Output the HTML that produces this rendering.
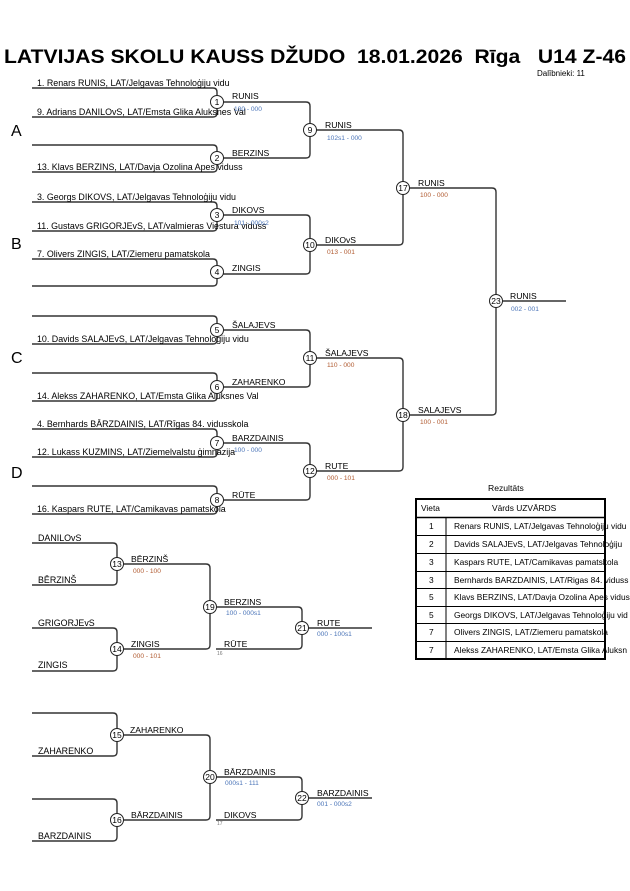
<!DOCTYPE html>
<html><head><meta charset="utf-8"><style>
html,body{margin:0;padding:0;background:#fff;width:630px;height:891px;overflow:hidden}
svg{display:block}
text{font-family:"Liberation Sans",Arial,sans-serif;fill:#000}
.n{font-size:8.9px}
.w{font-size:8.6px}
.s{font-size:6.6px;fill:#4a74b8}
.c{font-size:8.5px;text-anchor:middle}
.ln{fill:none;stroke:#333;stroke-width:1.4}
.cr{fill:#fff;stroke:#222;stroke-width:1}
.t{font-size:8.4px}
</style></head><body>
<svg width="630" height="891" viewBox="0 0 630 891" xmlns="http://www.w3.org/2000/svg">
<text x="4" y="63" style="font-size:19.5px;font-weight:bold;white-space:pre" xml:space="preserve" textLength="622" lengthAdjust="spacingAndGlyphs">LATVIJAS SKOLU KAUSS DŽUDO  18.01.2026  Rīga   U14 Z-46</text>
<text x="537" y="76" style="font-size:8px">Dalībnieki: 11</text>
<text x="11" y="136" style="font-size:16px">A</text>
<text x="11" y="249" style="font-size:16px">B</text>
<text x="11" y="363" style="font-size:16px">C</text>
<text x="11" y="478" style="font-size:16px">D</text>
<g class="ln">
<path d="M32 88H213Q217 88 217 92V113Q217 117 213 117H32"/>
<path d="M32 145H213Q217 145 217 149V168Q217 172 213 172H32"/>
<path d="M32 202H213Q217 202 217 206V227Q217 231 213 231H32"/>
<path d="M32 259H213Q217 259 217 263V282Q217 286 213 286H32"/>
<path d="M32 316H213Q217 316 217 320V340Q217 344 213 344H32"/>
<path d="M32 373H213Q217 373 217 377V397Q217 401 213 401H32"/>
<path d="M32 429H213Q217 429 217 433V453Q217 457 213 457H32"/>
<path d="M32 486H213Q217 486 217 490V510Q217 514 213 514H32"/>
<path d="M217 102H306Q310 102 310 106V154Q310 158 306 158H217"/>
<path d="M217 215H306Q310 215 310 219V270Q310 274 306 274H217"/>
<path d="M217 330H306Q310 330 310 334V383Q310 387 306 387H217"/>
<path d="M217 443H306Q310 443 310 447V496Q310 500 306 500H217"/>
<path d="M310 130H399Q403 130 403 134V241Q403 245 399 245H310"/>
<path d="M310 358H399Q403 358 403 362V467Q403 471 399 471H310"/>
<path d="M403 188H492Q496 188 496 192V411Q496 415 492 415H403"/>
<path d="M496 301H566"/>
<path d="M32 543H113Q117 543 117 547V581Q117 585 113 585H32"/>
<path d="M32 628H113Q117 628 117 632V667Q117 671 113 671H32"/>
<path d="M117 564H206Q210 564 210 568V645Q210 649 206 649H117"/>
<path d="M210 607H298Q302 607 302 611V645Q302 649 298 649H216"/>
<path d="M302 628H372"/>
<path d="M32 713H113Q117 713 117 717V752Q117 756 113 756H32"/>
<path d="M32 799H113Q117 799 117 803V837Q117 841 113 841H32"/>
<path d="M117 735H206Q210 735 210 739V816Q210 820 206 820H117"/>
<path d="M210 777H298Q302 777 302 781V816Q302 820 298 820H216"/>
<path d="M302 798H372"/>
</g>
<text class="n" x="37" y="86">1. Renars RUNIS, LAT/Jelgavas Tehnoloģiju vidu</text>
<text class="n" x="37" y="115">9. Adrians DANILOvS, LAT/Emsta Glika Aluksnes Val</text>
<text class="n" x="37" y="170">13. Klavs BERZINS, LAT/Davja Ozolina Apes viduss</text>
<text class="n" x="37" y="200">3. Georgs DIKOVS, LAT/Jelgavas Tehnoloģiju vidu</text>
<text class="n" x="37" y="229">11. Gustavs GRIGORJEvS, LAT/valmieras Viestura viduss</text>
<text class="n" x="37" y="257">7. Olivers ZINGIS, LAT/Ziemeru pamatskola</text>
<text class="n" x="37" y="342">10. Davids SALAJEvS, LAT/Jelgavas Tehnologiju vidu</text>
<text class="n" x="37" y="399">14. Alekss ZAHARENKO, LAT/Emsta Glika Aluksnes Val</text>
<text class="n" x="37" y="427">4. Bernhards BĀRZDAINIS, LAT/Rīgas 84. vidusskola</text>
<text class="n" x="37" y="455">12. Lukass KUZMINS, LAT/Ziemelvalstu ģimnazija</text>
<text class="n" x="37" y="512">16. Kaspars RUTE, LAT/Camikavas pamatskola</text>
<text class="w" x="232" y="99">RUNIS</text><text class="s" x="234" y="111">100 - 000</text>
<text class="w" x="232" y="156">BERZINS</text>
<text class="w" x="232" y="213">DIKOVS</text><text class="s" x="234" y="225">101 - 000s2</text>
<text class="w" x="232" y="271">ZINGIS</text>
<text class="w" x="232" y="328">ŠALAJEVS</text>
<text class="w" x="232" y="385">ZAHARENKO</text>
<text class="w" x="232" y="441">BARZDAINIS</text><text class="s" x="234" y="452">100 - 000</text>
<text class="w" x="232" y="498">RŪTE</text>
<text class="w" x="325" y="128">RUNIS</text><text class="s" x="327" y="140">102s1 - 000</text>
<text class="w" x="325" y="243">DIKOvS</text><text class="s" x="327" y="254" style="fill:#b05a30">013 - 001</text>
<text class="w" x="325" y="356">ŠALAJEVS</text><text class="s" x="327" y="367" style="fill:#b05a30">110 - 000</text>
<text class="w" x="325" y="469">RUTE</text><text class="s" x="327" y="480" style="fill:#b05a30">000 - 101</text>
<text class="w" x="418" y="186">RUNIS</text><text class="s" x="420" y="197" style="fill:#b05a30">100 - 000</text>
<text class="w" x="418" y="413">SALAJEVS</text><text class="s" x="420" y="424" style="fill:#b05a30">100 - 001</text>
<text class="w" x="510" y="299">RUNIS</text><text class="s" x="511" y="311">002 - 001</text>
<text class="n" x="38" y="541">DANILOvS</text>
<text class="n" x="38" y="583">BĒRZINŠ</text>
<text class="n" x="38" y="626">GRIGORJEvS</text>
<text class="n" x="38" y="668">ZINGIS</text>
<text class="w" x="131" y="562">BĒRZINŠ</text><text class="s" x="133" y="573" style="fill:#b05a30">000 - 100</text>
<text class="w" x="131" y="647">ZINGIS</text><text class="s" x="133" y="658" style="fill:#b05a30">000 - 101</text>
<text class="w" x="224" y="605">BERZINS</text><text class="s" x="226" y="615">100 - 000s1</text>
<text class="w" x="224" y="647">RŪTE</text><text x="217" y="655" style="font-size:5px;fill:#777">16</text>
<text class="w" x="317" y="626">RUTE</text><text class="s" x="317" y="636">000 - 100s1</text>
<text class="n" x="38" y="754">ZAHARENKO</text>
<text class="n" x="38" y="839">BARZDAINIS</text>
<text class="w" x="130" y="733">ZAHARENKO</text>
<text class="w" x="131" y="818">BĀRZDAINIS</text>
<text class="w" x="224" y="775">BĀRZDAINIS</text><text class="s" x="225" y="785">000s1 - 111</text>
<text class="w" x="224" y="818">DIKOVS</text><text x="217" y="825" style="font-size:5px;fill:#777">17</text>
<text class="w" x="317" y="796">BARZDAINIS</text><text class="s" x="317" y="806">001 - 000s2</text>
<g>
<circle class="cr" cx="217" cy="102" r="6.5"/><text class="c" x="217" y="105">1</text>
<circle class="cr" cx="217" cy="158" r="6.5"/><text class="c" x="217" y="161">2</text>
<circle class="cr" cx="217" cy="215" r="6.5"/><text class="c" x="217" y="218">3</text>
<circle class="cr" cx="217" cy="272" r="6.5"/><text class="c" x="217" y="275">4</text>
<circle class="cr" cx="217" cy="330" r="6.5"/><text class="c" x="217" y="333">5</text>
<circle class="cr" cx="217" cy="387" r="6.5"/><text class="c" x="217" y="390">6</text>
<circle class="cr" cx="217" cy="443" r="6.5"/><text class="c" x="217" y="446">7</text>
<circle class="cr" cx="217" cy="500" r="6.5"/><text class="c" x="217" y="503">8</text>
<circle class="cr" cx="310" cy="130" r="6.5"/><text class="c" x="310" y="133">9</text>
<circle class="cr" cx="310" cy="245" r="6.5"/><text class="c" x="310" y="248">10</text>
<circle class="cr" cx="310" cy="358" r="6.5"/><text class="c" x="310" y="361">11</text>
<circle class="cr" cx="310" cy="471" r="6.5"/><text class="c" x="310" y="474">12</text>
<circle class="cr" cx="403" cy="188" r="6.5"/><text class="c" x="403" y="191">17</text>
<circle class="cr" cx="403" cy="415" r="6.5"/><text class="c" x="403" y="418">18</text>
<circle class="cr" cx="496" cy="301" r="6.5"/><text class="c" x="496" y="304">23</text>
<circle class="cr" cx="117" cy="564" r="6.5"/><text class="c" x="117" y="567">13</text>
<circle class="cr" cx="117" cy="649" r="6.5"/><text class="c" x="117" y="652">14</text>
<circle class="cr" cx="210" cy="607" r="6.5"/><text class="c" x="210" y="610">19</text>
<circle class="cr" cx="302" cy="628" r="6.5"/><text class="c" x="302" y="631">21</text>
<circle class="cr" cx="117" cy="735" r="6.5"/><text class="c" x="117" y="738">15</text>
<circle class="cr" cx="117" cy="820" r="6.5"/><text class="c" x="117" y="823">16</text>
<circle class="cr" cx="210" cy="777" r="6.5"/><text class="c" x="210" y="780">20</text>
<circle class="cr" cx="302" cy="798" r="6.5"/><text class="c" x="302" y="801">22</text>
</g>
<text x="488" y="491" style="font-size:8.6px">Rezultāts</text>
<g fill="none" stroke="#000">
<rect x="416" y="499" width="189" height="160" stroke-width="2"/>
<line x1="446" y1="517" x2="446" y2="659" stroke-width="1"/>
<line x1="416" y1="517.5" x2="605" y2="517.5" stroke-width="1.5"/>
<line x1="416" y1="535.5" x2="605" y2="535.5"/>
<line x1="416" y1="553.5" x2="605" y2="553.5"/>
<line x1="416" y1="571.5" x2="605" y2="571.5"/>
<line x1="416" y1="588.5" x2="605" y2="588.5"/>
<line x1="416" y1="606.5" x2="605" y2="606.5"/>
<line x1="416" y1="623.5" x2="605" y2="623.5"/>
<line x1="416" y1="641.5" x2="605" y2="641.5"/>
</g>
<text class="t" x="421" y="511">Vieta</text>
<text class="t" x="492" y="511">Vārds UZVĀRDS</text>
<g class="t">
<text class="t" x="429" y="529">1</text><text class="t" x="454" y="529">Renars RUNIS, LAT/Jelgavas Tehnoloģiju vidu</text>
<text class="t" x="429" y="547">2</text><text class="t" x="454" y="547">Davids SALAJEvS, LAT/Jelgavas Tehnoloģiju</text>
<text class="t" x="429" y="565">3</text><text class="t" x="454" y="565">Kaspars RUTE, LAT/Camikavas pamatskola</text>
<text class="t" x="429" y="583">3</text><text class="t" x="454" y="583">Bernhards BARZDAINIS, LAT/Rigas 84. viduss</text>
<text class="t" x="429" y="600">5</text><text class="t" x="454" y="600">Klavs BERZINS, LAT/Davja Ozolina Apes vidus</text>
<text class="t" x="429" y="618">5</text><text class="t" x="454" y="618">Georgs DIKOVS, LAT/Jelgavas Tehnoloģiju vid</text>
<text class="t" x="429" y="635">7</text><text class="t" x="454" y="635">Olivers ZINGIS, LAT/Ziemeru pamatskola</text>
<text class="t" x="429" y="653">7</text><text class="t" x="454" y="653">Alekss ZAHARENKO, LAT/Emsta Glika Aluksn</text>
</g>
</svg>
</body></html>
